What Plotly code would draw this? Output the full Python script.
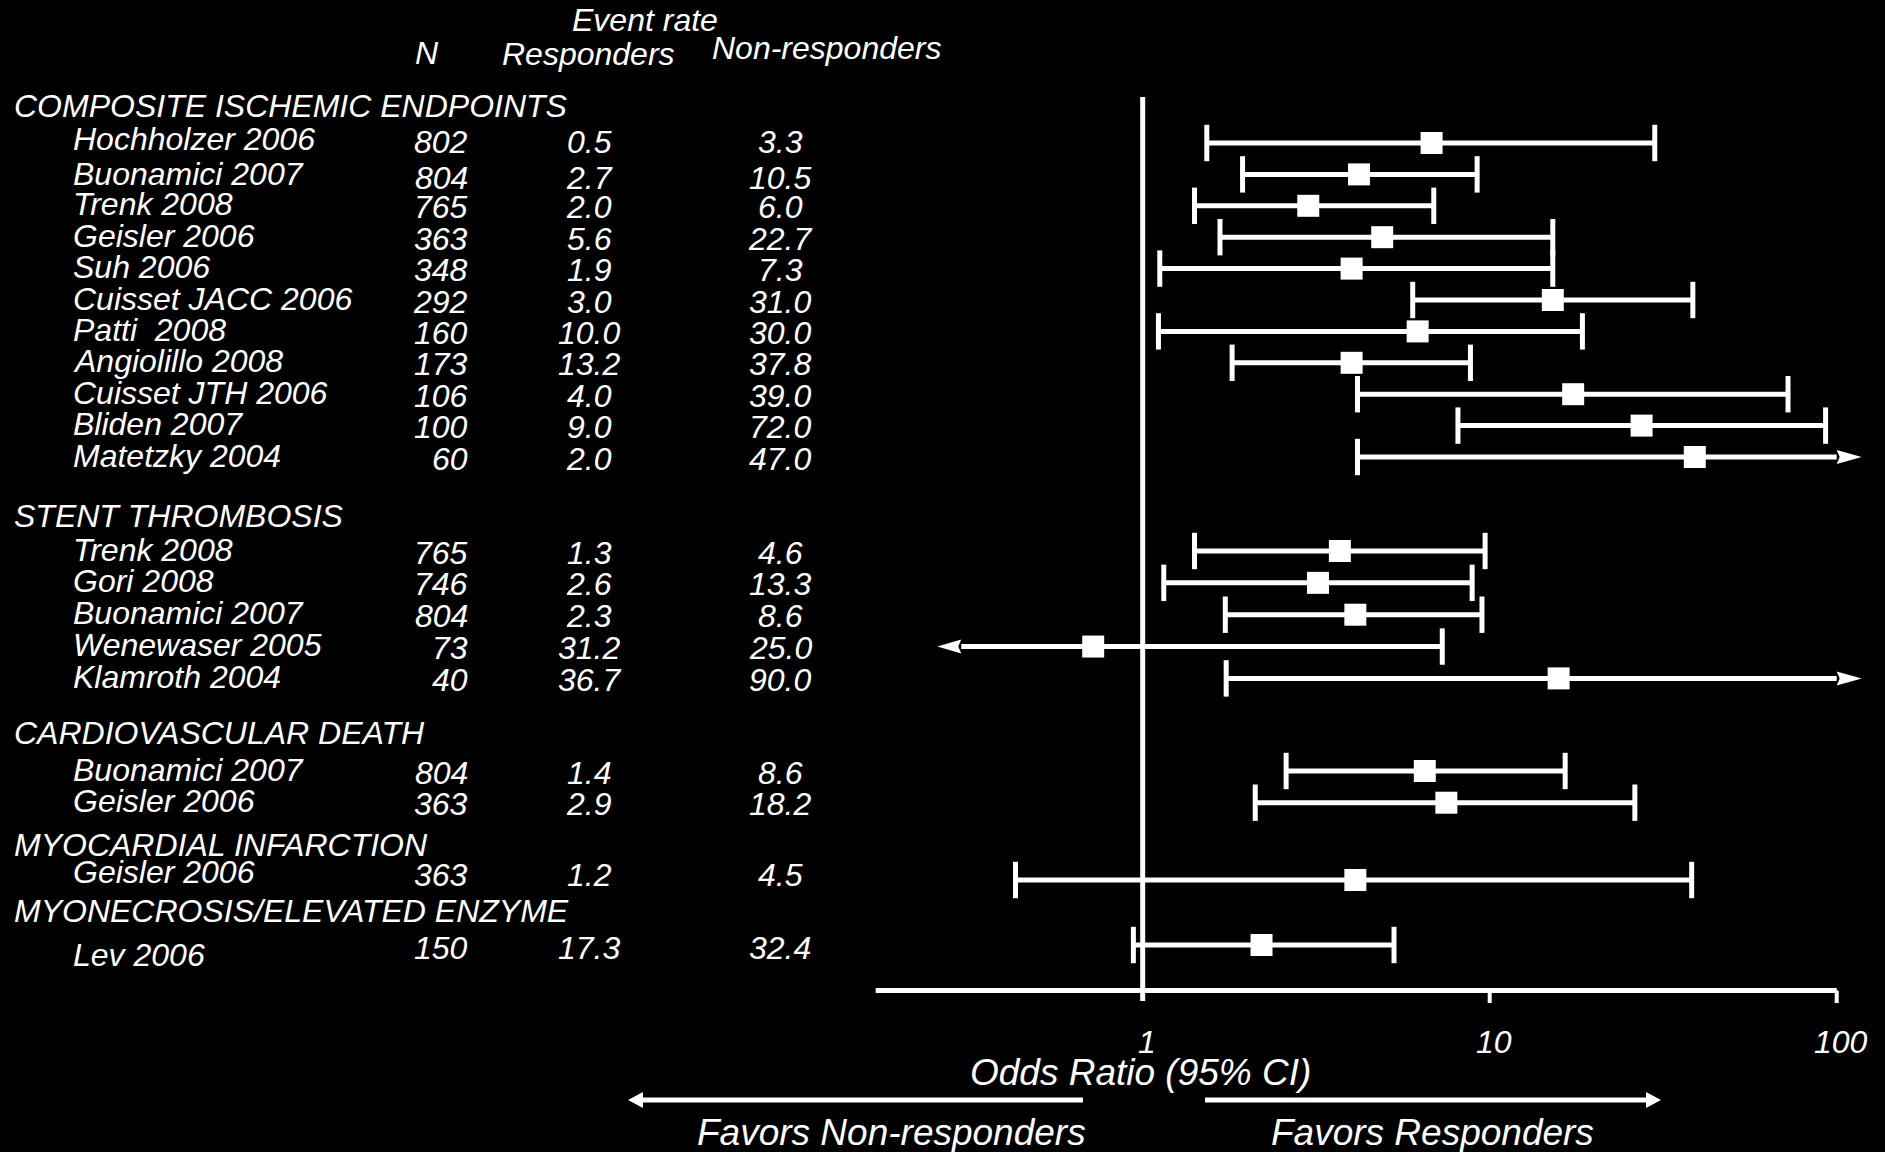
import numpy as np
import plotly.graph_objects as go

# ---------------------------------------------------------------- data
endpoint_groups = [
    "COMPOSITE ISCHEMIC ENDPOINTS",
    "STENT THROMBOSIS",
    "CARDIOVASCULAR DEATH",
    "MYOCARDIAL INFARCTION",
    "MYONECROSIS/ELEVATED ENZYME",
]
group_of_study = [0] * 11 + [1] * 5 + [2] * 2 + [3] + [4]

studies = [
    "Hochholzer 2006", "Buonamici 2007", "Trenk 2008", "Geisler 2006", "Suh 2006",
    "Cuisset JACC 2006", "Patti \u00a02008", "Angiolillo 2008", "Cuisset JTH 2006",
    "Bliden 2007", "Matetzky 2004",
    "Trenk 2008", "Gori 2008", "Buonamici 2007", "Wenewaser 2005", "Klamroth 2004",
    "Buonamici 2007", "Geisler 2006",
    "Geisler 2006",
    "Lev 2006",
]
n_patients = [802, 804, 765, 363, 348, 292, 160, 173, 106, 100, 60,
              765, 746, 804, 73, 40,
              804, 363,
              363,
              150]
rate_responders = [0.5, 2.7, 2.0, 5.6, 1.9, 3.0, 10.0, 13.2, 4.0, 9.0, 2.0,
                   1.3, 2.6, 2.3, 31.2, 36.7,
                   1.4, 2.9,
                   1.2,
                   17.3]
rate_nonresponders = [3.3, 10.5, 6.0, 22.7, 7.3, 31.0, 30.0, 37.8, 39.0, 72.0, 47.0,
                      4.6, 13.3, 8.6, 25.0, 90.0,
                      8.6, 18.2,
                      4.5,
                      32.4]
odds_ratio = [6.8, 4.2, 3.0, 4.9, 4.0, 15.2, 6.2, 4.0, 17.4, 27.4, 39.0,
              3.7, 3.2, 4.1, 0.72, 15.8,
              6.5, 7.5,
              4.1,
              2.2]
# None = interval runs off the drawn scale (shown with an arrow)
ci_lower = [1.53, 1.94, 1.41, 1.67, 1.12, 6.0, 1.11, 1.81, 4.16, 8.1, 4.16,
            1.41, 1.15, 1.73, None, 1.74,
            2.59, 2.11,
            0.43,
            0.94]
ci_upper = [29.9, 9.2, 6.9, 15.2, 15.2, 38.5, 18.5, 8.8, 72.4, 92.9, None,
            9.7, 8.9, 9.5, 7.3, None,
            16.5, 26.2,
            38.2,
            5.3]
or_ticks = [1, 10, 100]

# ---------------------------------------------------------------- layout
W, H = 1885, 1152
FONT = "Liberation Sans, Arial, Helvetica, sans-serif"
WHITE = "white"
X_ONE = 1142.7            # pixel column of OR = 1
DECADE = 347.0            # pixels per factor of ten on the OR scale
AXIS_FROM, AXIS_TO = 0.17, 100
CLIP_LOW, CLIP_HIGH = 0.3, 100
TABLE_SIZE = 32
BIG_SIZE = 37

header_y = [106, 516, 733, 845, 911]
first_gap = [37, 35, 38, 35, 34]
pitch = [31.4, 31.85, 31.7, 31.5, 31.5]

row_y = []
seen = [0] * len(endpoint_groups)
for g in group_of_study:
    row_y.append(header_y[g] + first_gap[g] + seen[g] * pitch[g])
    seen[g] += 1

log = np.log10

# ---------------------------------------------------------------- marks
line_x, line_y = [], []
cap_x, cap_y = [], []
for lo, hi, y in zip(ci_lower, ci_upper, row_y):
    left = lo if lo is not None else CLIP_LOW
    right = hi if hi is not None else CLIP_HIGH
    line_x += [log(left), log(right), None]
    line_y += [y, y, None]
    if lo is not None:
        cap_x.append(log(lo)); cap_y.append(y)
    if hi is not None:
        cap_x.append(log(hi)); cap_y.append(y)

fig = go.Figure()
fig.add_trace(go.Scatter(
    x=line_x, y=line_y, mode="lines",
    line=dict(color=WHITE, width=5), hoverinfo="skip", showlegend=False))
fig.add_trace(go.Scatter(
    x=cap_x, y=cap_y, mode="markers",
    marker=dict(symbol="line-ns", size=26, color=WHITE,
                line=dict(color=WHITE, width=5)),
    hoverinfo="skip", showlegend=False))
fig.add_trace(go.Scatter(
    x=[log(v) for v in odds_ratio], y=row_y, mode="markers",
    marker=dict(symbol="square", size=22, color=WHITE, line=dict(width=0)),
    text=studies, hovertemplate="%{text}<extra></extra>", showlegend=False))


def arrow_head(x, y, direction, length, half, notch, xref="x"):
    """Filled pixel-sized arrowhead whose back sits at (x, y)."""
    tip = direction * length
    back = direction * notch
    path = f"M0,{half}L{tip},0L0,{-half}L{back},0Z"
    return dict(type="path", xref=xref, yref="y",
                xsizemode="pixel", ysizemode="pixel",
                xanchor=x, yanchor=y, path=path,
                fillcolor=WHITE, line=dict(width=0), layer="above")


shapes = []
# reference line at OR = 1
shapes.append(dict(type="line", xref="x", yref="y", x0=0, x1=0, y0=97, y1=1001,
                   line=dict(color=WHITE, width=5), layer="below"))
# OR axis with its ticks
AXIS_Y = 990.5
shapes.append(dict(type="line", xref="x", yref="y", x0=log(AXIS_FROM), x1=log(AXIS_TO),
                   y0=AXIS_Y, y1=AXIS_Y, line=dict(color=WHITE, width=5)))
for t in or_ticks[1:]:
    shapes.append(dict(type="line", xref="x", yref="y", x0=log(t), x1=log(t),
                       y0=AXIS_Y, y1=1003, line=dict(color=WHITE, width=4)))
# arrows for intervals running off the scale
for lo, hi, y in zip(ci_lower, ci_upper, row_y):
    if lo is None:
        shapes.append(arrow_head(log(CLIP_LOW), y, -1, 24, 7, 3))
    if hi is None:
        shapes.append(arrow_head(log(CLIP_HIGH), y, 1, 25, 7, 3))

# direction arrows under the axis
FAV_Y = 1100
shapes.append(dict(type="line", xref="paper", yref="y", x0=641 / W, x1=1083 / W,
                   y0=FAV_Y, y1=FAV_Y, line=dict(color=WHITE, width=5)))
shapes.append(dict(type="line", xref="paper", yref="y", x0=1205 / W, x1=1648 / W,
                   y0=FAV_Y, y1=FAV_Y, line=dict(color=WHITE, width=5)))
shapes.append(arrow_head(643 / W, FAV_Y, -1, 15, 8, 0, xref="paper"))
shapes.append(arrow_head(1646 / W, FAV_Y, 1, 15, 8, 0, xref="paper"))

# ---------------------------------------------------------------- text


def label(text, x_px, y, anchor="left", size=TABLE_SIZE):
    return dict(text=text, x=x_px / W, xref="paper", y=y, yref="y",
                xanchor=anchor, yanchor="middle", showarrow=False,
                font=dict(family=FONT, size=size, color=WHITE, style="italic"))


SECTION_X, NAME_X = 12, 71
N_RIGHT, RESP_C, NONRESP_C = 470, 589, 780
# per-row vertical nudges of the table text relative to its interval
name_nudge = {0: -4, 1: 0, 18: -8, 19: 10}
value_nudge = {0: -1, 1: 3.5, 18: -5, 19: 3}

ann = [
    label("Event rate", 645, 20, "center"),
    label("N", 427, 53, "center"),
    label("Responders", 588, 54, "center"),
    label("Non-responders", 826, 48, "center"),
]
for g, name in enumerate(endpoint_groups):
    ann.append(label(name, SECTION_X, header_y[g]))
for i, y in enumerate(row_y):
    ny = y + name_nudge.get(i, -1.5)
    vy = y + value_nudge.get(i, 1.5)
    ann.append(label(studies[i], NAME_X, ny))
    ann.append(label(str(n_patients[i]), N_RIGHT, vy, "right"))
    ann.append(label(f"{rate_responders[i]:.1f}", RESP_C, vy, "center"))
    ann.append(label(f"{rate_nonresponders[i]:.1f}", NONRESP_C, vy, "center"))

for t in or_ticks:
    ann.append(dict(text=str(t), x=log(t), xref="x", xshift=4, y=1042, yref="y",
                    xanchor="center", yanchor="middle", showarrow=False,
                    font=dict(family=FONT, size=32, color=WHITE, style="italic")))
ann.append(label("Odds Ratio (95% CI)", 1140, 1072, "center", BIG_SIZE))
ann.append(label("Favors Non-responders", 891, 1132, "center", BIG_SIZE))
ann.append(label("Favors Responders", 1432, 1132, "center", BIG_SIZE))

hidden = dict(showgrid=False, zeroline=False, showline=False, showticklabels=False,
              ticks="", fixedrange=True)
fig.update_layout(
    width=W, height=H, autosize=False,
    margin=dict(l=0, r=0, t=0, b=0, pad=0),
    paper_bgcolor="black", plot_bgcolor="black",
    xaxis=dict(range=[(0 - X_ONE) / DECADE, (W - X_ONE) / DECADE], domain=[0, 1], **hidden),
    yaxis=dict(range=[H, 0], domain=[0, 1], **hidden),
    shapes=shapes, annotations=ann, showlegend=False,
)

fig.write_html("out.html", config={"displayModeBar": False})
